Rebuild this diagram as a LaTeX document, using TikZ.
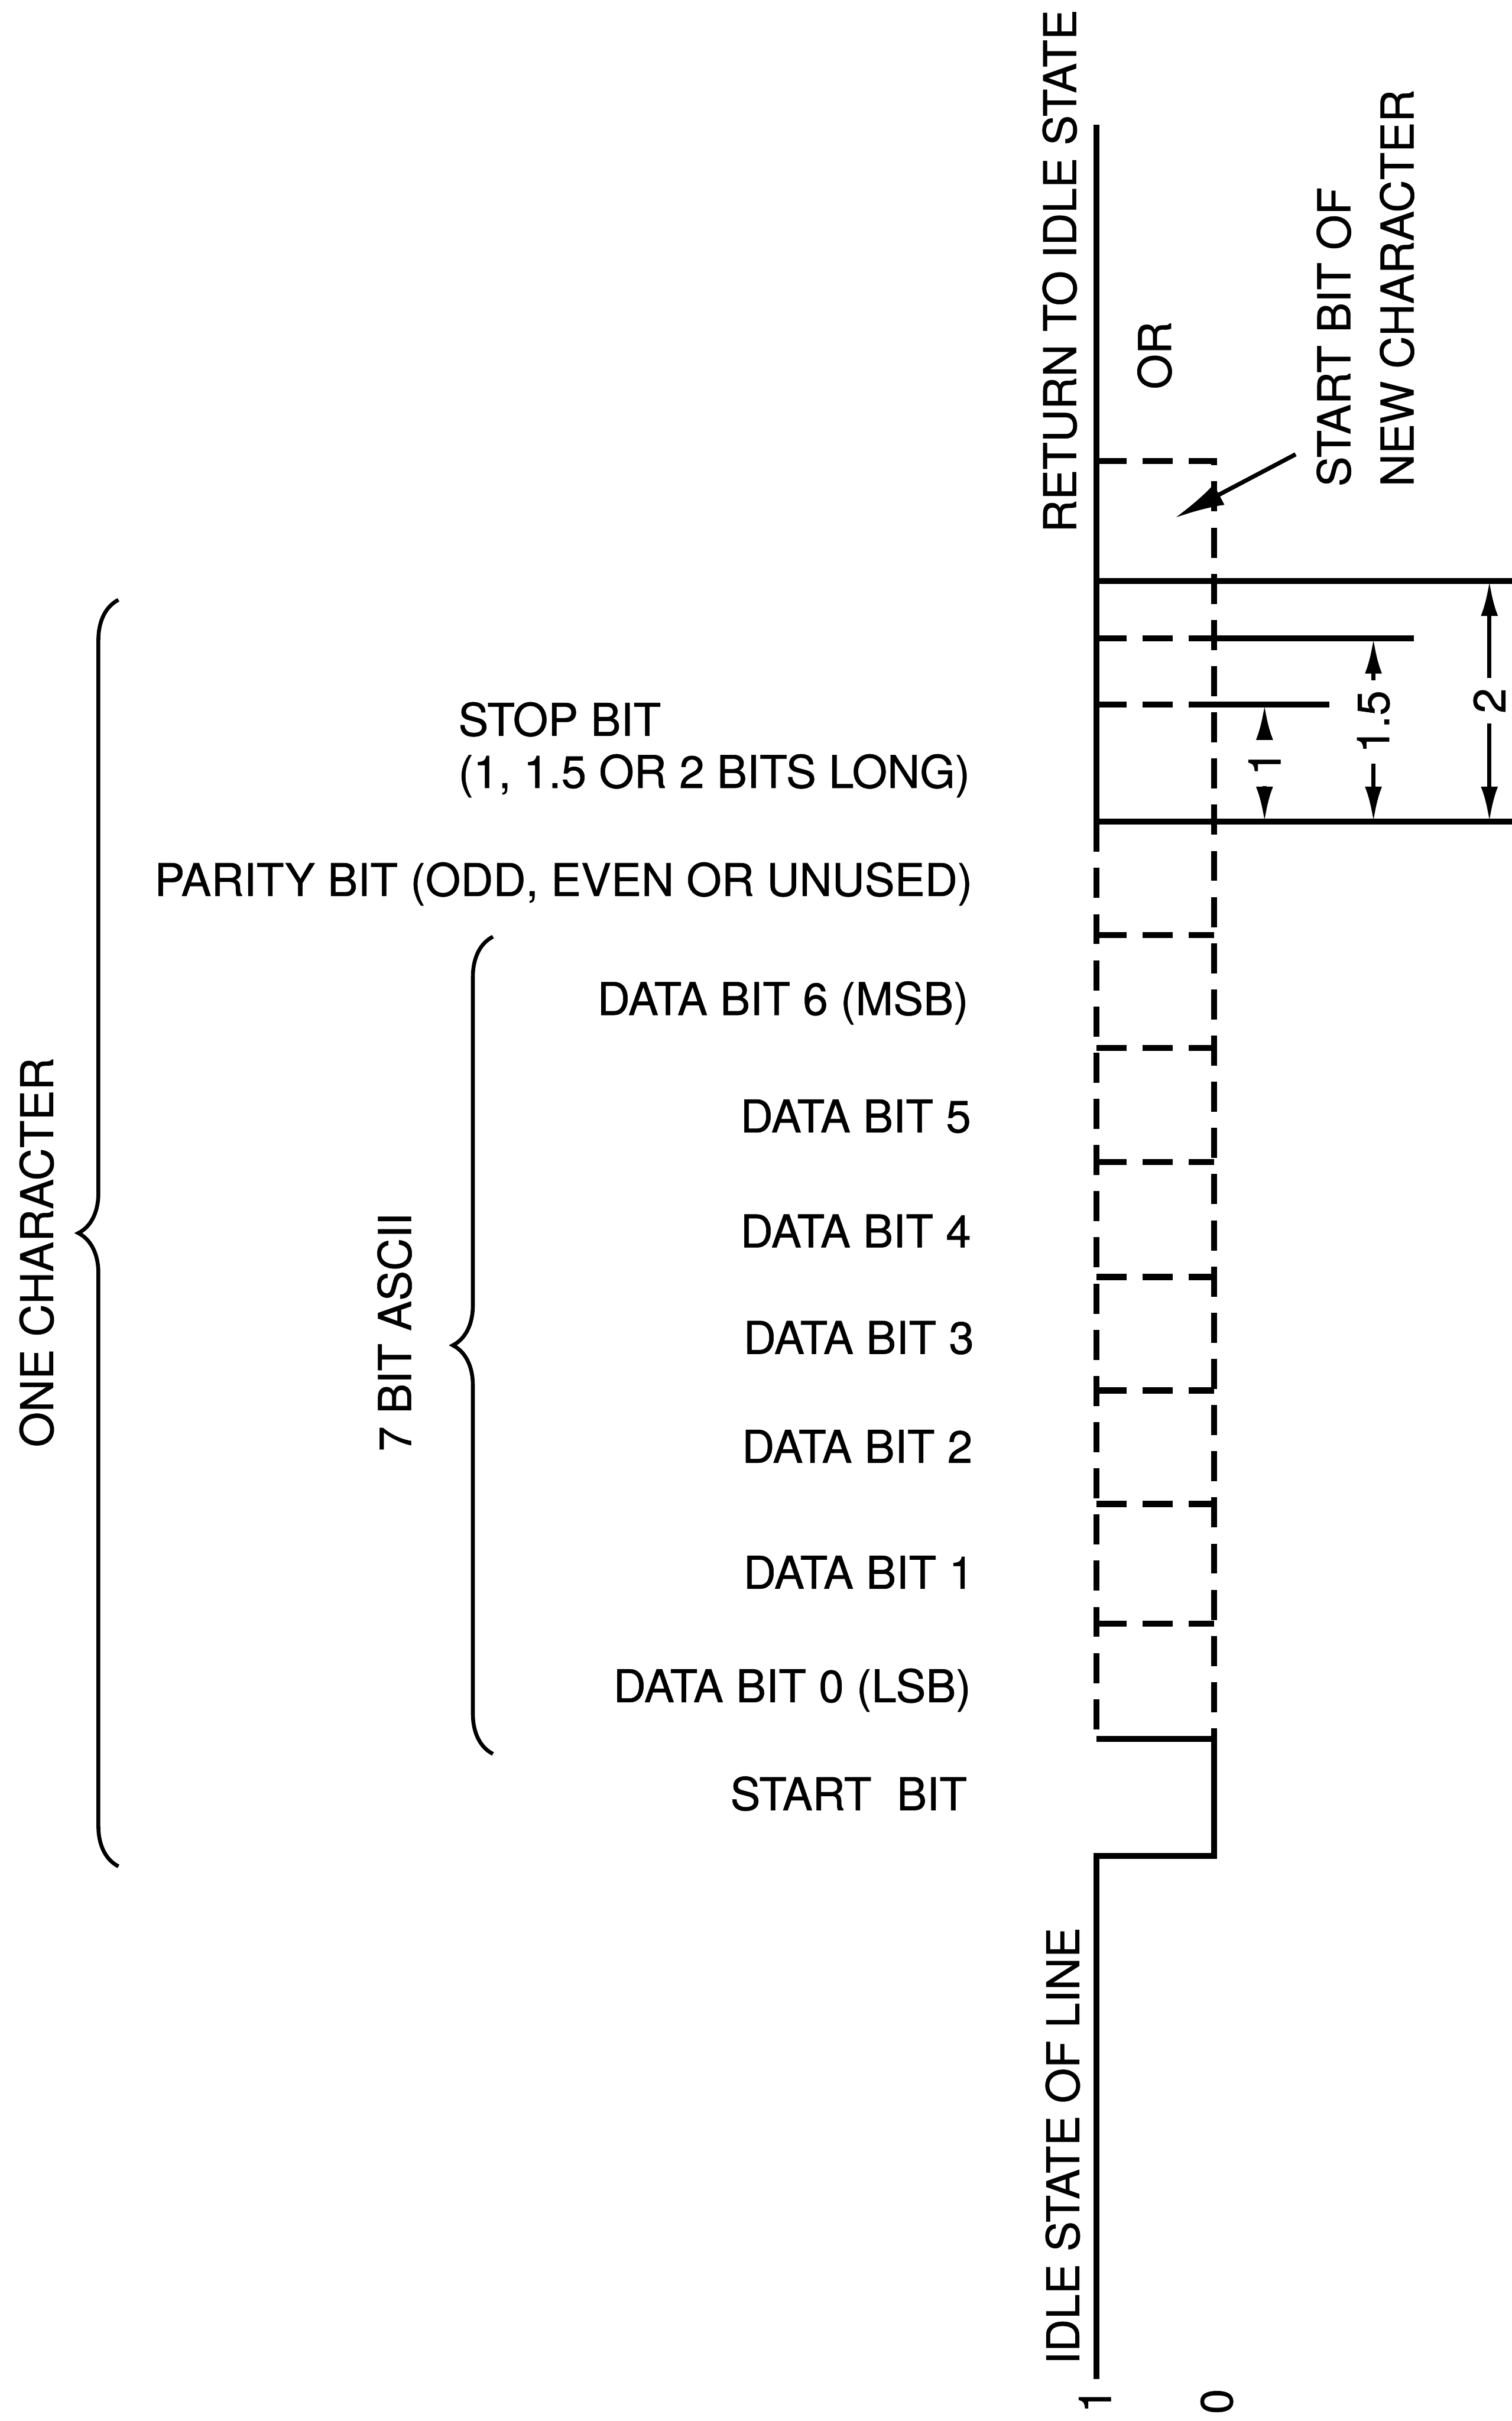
\documentclass[tikz,border=0pt]{standalone}
\usepackage{fontspec}
\setmainfont{TeX Gyre Heros}[FakeBold=0.7]
\usetikzlibrary{positioning,arrows.meta,decorations.pathreplacing,calc}

\begin{document}
\begin{tikzpicture}[every node/.style={font=\fontsize{25.6}{29.5}\selectfont, inner sep=0pt},
                    wave/.style={line width=3.4pt},
                    maybe/.style={line width=3.4pt, dash pattern=on 6mm off 3.2mm},
                    dim/.style={line width=2.4pt, -{Latex[length=7mm,width=3.4mm]}},
                    callout/.style={line width=2.4pt, -{Latex[length=10mm,width=4.6mm]}},
                    bitlbl/.style={anchor=base east},
                    vlbl/.style={rotate=90},
                    dimlbl/.style={rotate=90, inner sep=0.2cm},
                    brc/.style={line width=2.2pt, decorate, decoration={brace, amplitude=0.8cm}}]
    \useasboundingbox (0,0) rectangle (30.12,-48.23);

    % Stop bit ends (1, 1.5, 2)
    \coordinate (s1) at (21.84,-14.04);
    \coordinate (s15) at (21.84,-12.72);
    \coordinate (s2) at (21.84,-11.57);
    \coordinate (p0) at (21.84,-16.37);
    \coordinate (nxt) at (23.40,-10.32);

    % Line: idle, start bit, stop bit
    \draw[wave] (21.84,-47.39) -- (21.84,-36.97) -- (24.19,-36.97) -- (24.19,-34.64) -- (21.84,-34.64);
    \draw[wave] (21.84,-2.49) -- (p0) -- (30.12,-16.37);
    \draw[wave] (s2) -- (30.12,-11.57);
    \draw[maybe] (s15) -- (24.19,-12.72);
    \draw[wave] (24.19,-12.72) -- (28.17,-12.72);
    \draw[maybe] (s1) -- (24.19,-14.04);
    \draw[wave] (24.19,-14.04) -- (26.48,-14.04);

    % Data and parity bits (either level)
    \draw[maybe] (p0) -- (21.84,-34.64);
    \draw[maybe] (21.84,-9.18) -- (24.19,-9.18) -- (24.19,-34.64);
    \foreach \y in {-18.63,-20.88,-23.15,-25.44,-27.70,-29.96,-32.35}
        \draw[maybe] (21.84,\y) -- (24.19,\y);

    % Stop bit length
    \node[dimlbl] (d1) at (25.19,-15.20) {1};
    \node[dimlbl] (d15) at (27.36,-14.38) {1.5};
    \node[dimlbl] (d2) at (29.67,-13.96) {2};
    \draw[dim] (d1.east) -- (d1.east |- s1);
    \draw[dim] (d1.west) -- (d1.west |- p0);
    \draw[dim] (d15.east) -- (d15.east |- s15);
    \draw[dim] (d15.west) -- (d15.west |- p0);
    \draw[dim] (d2.east) -- (d2.east |- s2);
    \draw[dim] (d2.west) -- (d2.west |- p0);

    % Labels on the right
    \node[vlbl] (ret) at (21.11,-5.40) {RETURN TO IDLE STATE};
    \node[vlbl] (or) at (23.00,-7.08) {OR};
    \node[vlbl, align=left, font=\fontsize{25.6}{35.8}\selectfont] (nc) at (27.20,-5.74) {START BIT OF\\NEW CHARACTER};
    \draw[callout] ([shift={(-0.41,0.65)}]nc.north west) -- (nxt);
    \node[vlbl] (idle) at (21.17,-42.75) {IDLE STATE OF LINE};
    \node[vlbl] (one) at (21.81,-47.82) {1};
    \node[vlbl] (zero) at (24.24,-47.84) {0};

    % Bit names
    \node[anchor=north east, align=left] (stop) at (19.33,-13.98) {STOP BIT\\(1, 1.5 OR 2 BITS LONG)};
    \node[bitlbl] (par) at (19.38,-17.85) {PARITY BIT (ODD, EVEN OR UNUSED)};
    \node[bitlbl] (b6) at (19.30,-20.22) {DATA BIT 6 (MSB)};
    \node[bitlbl] (b5) at (19.35,-22.56) {DATA BIT 5};
    \node[bitlbl] (b4) at (19.35,-24.85) {DATA BIT 4};
    \node[bitlbl] (b3) at (19.41,-26.97) {DATA BIT 3};
    \node[bitlbl] (b2) at (19.38,-29.14) {DATA BIT 2};
    \node[bitlbl] (b1) at (19.41,-31.65) {DATA BIT 1};
    \node[bitlbl] (b0) at (19.35,-33.91) {DATA BIT 0 (LSB)};
    \node[bitlbl] (sb) at (19.27,-36.06) {START~~BIT};

    % Braces
    \draw[brc] (9.82,-34.94) -- (9.82,-18.66);
    \node[vlbl] (ascii) at (7.86,-26.54) {7 BIT ASCII};
    \draw[brc] (2.36,-37.18) -- (2.36,-11.95);
    \node[vlbl] (char) at (0.73,-24.95) {ONE CHARACTER};
\end{tikzpicture}
\end{document}
